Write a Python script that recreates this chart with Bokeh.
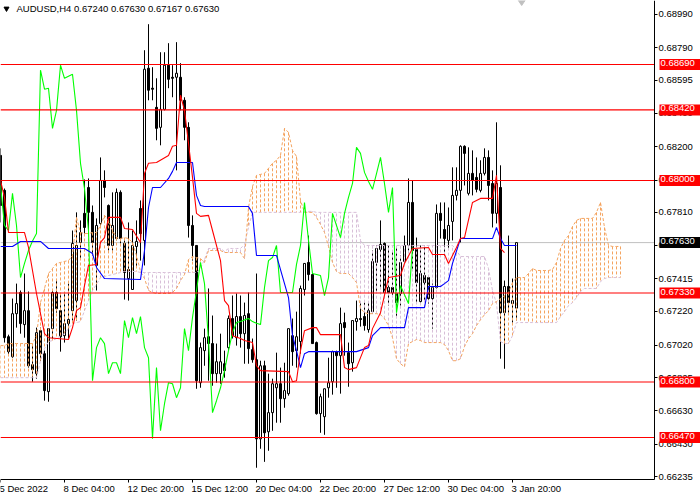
from bokeh.plotting import figure
from bokeh.models import Range1d, FixedTicker, Label, LinearAxis
from bokeh.embed import file_html
from bokeh.resources import INLINE
import numpy as np

FONT = "Liberation Sans"
SCALE = 1e5

x_ticks = [0, 16, 32, 48, 64, 80, 96, 112, 128]
x_labels = ["5 Dec 2022", "8 Dec 04:00", "12 Dec 20:00", "15 Dec 12:00", "20 Dec 04:00",
            "22 Dec 20:00", "27 Dec 12:00", "30 Dec 04:00", "3 Jan 20:00"]
y_ticks = [0.68990, 0.68790, 0.68595, 0.68400, 0.68200, 0.68000, 0.67810, 0.67615,
           0.67415, 0.67220, 0.67020, 0.66825, 0.66630, 0.66430, 0.66235]
levels = [0.68690, 0.68420, 0.68000, 0.67330, 0.66800, 0.66470]
last_price = 0.67630

opens = [68149,67941,67070,66951,67207,67333,67142,67225,66903,66850,
 67106,66969,66743,67118,67333,67225,67076,67148,67225,67285,
 67631,67804,67958,67810,67494,67744,68000,67851,67613,67654,
 67929,67625,67416,67351,67607,67833,67643,68668,68549,68435,
 68316,68423,68686,68614,68614,68614,68477,68316,67732,67613,
 66796,66987,67070,67029,66850,66850,66909,67005,67178,67064,
 67190,67088,67207,66993,66933,66462,66897,66504,66618,66766,
 66790,66701,66731,67076,66987,67041,67351,67512,67440,67035,
 66612,66594,66766,66802,66981,66957,67154,66975,66915,67160,
 67178,67190,67112,67219,67512,67589,67625,67363,67363,67327,
 67327,67518,67613,67869,67589,67279,67434,67422,67297,67363,
 67804,67708,67643,67756,67911,67941,68203,67923,68042,68018,
 67941,68042,68137,67982,67804,67958,67213,67369,67267,67240]
highs = [68191,67952,67082,67297,67386,67345,67446,67339,67017,67124,
 67124,66987,67118,67351,67404,67327,67327,67386,67702,67810,
 67762,68006,68012,67851,67774,68137,68060,67857,67929,67952,
 67941,67643,67750,67702,67762,67881,68775,68930,68674,68608,
 68763,68763,68817,68686,68823,68698,68495,68346,67792,67613,
 67035,67118,67357,67196,67029,67088,66987,67196,67315,67327,
 67315,67273,67333,67059,67446,66927,66927,66850,66820,66975,
 66886,66915,67118,67178,67219,67374,67506,67672,67446,67041,
 66731,66760,66945,66987,66987,67243,67213,67035,67166,67285,
 67273,67273,67273,67583,67613,67762,67631,67613,67583,67607,
 67553,67672,68012,68000,67660,67613,67613,67434,67386,67857,
 67869,67869,67839,68078,68078,68209,68209,68197,68179,68137,
 68120,68191,68179,68060,68346,68090,67404,67672,67416,67630]
lows = [67750,67035,66963,66945,67124,67088,67064,66886,66802,66820,
 66927,66689,66683,67059,67213,66981,67035,67059,67166,67166,
 67535,67684,67672,67553,67345,67732,67899,67583,67583,67643,
 67625,67291,67285,67351,67482,67523,67494,68477,68477,68239,
 68209,68417,68549,68495,68060,68417,68239,67660,67523,66760,
 66766,66897,66808,66778,66796,66790,66826,66987,67059,67017,
 67005,66909,66909,66915,66290,66403,66325,66391,66510,66558,
 66558,66647,66719,66897,66886,66969,67315,67404,67029,66606,
 66498,66486,66707,66725,66766,66731,66957,66772,66862,67106,
 67130,67106,67094,67207,67339,67363,67327,67255,67315,67184,
 67255,67512,67583,67464,67273,67273,67285,67267,67118,67357,
 67654,67553,67595,67643,67881,67631,67970,67911,67911,67929,
 67929,68030,67881,67720,67744,66939,66879,67213,67154,67167]
closes = [67851,67064,66981,67207,67267,67148,67225,66897,66874,67094,
 66969,66749,67118,67333,67237,67070,67148,67172,67625,67613,
 67690,67720,67810,67631,67732,68000,67958,67613,67732,67929,
 67654,67452,67470,67613,67637,67684,68662,68537,68543,68310,
 68423,68686,68602,68608,68638,68477,68316,67732,67613,66808,
 67005,67064,67029,66850,66921,66921,66868,67178,67076,67190,
 67088,67196,66999,66933,66462,66897,66498,66618,66790,66790,
 66701,66749,67118,66981,67070,67357,67506,67440,67029,66612,
 66713,66760,66796,66981,66957,67148,67124,66909,67166,67178,
 67172,67136,67225,67518,67595,67619,67333,67333,67333,67273,
 67512,67613,67869,67583,67392,67446,67392,67297,67363,67804,
 67762,67654,67732,67911,67941,68203,68161,68042,68000,67947,
 68042,68137,67970,67804,67982,67213,67369,67273,67285,67630]

kijun_bars = [0,3,5,10,12,21,23,24,26,35,36,37,38,40,42,43,44,48,49,50,51,62,63,64,69,71,72,73,74,75,76,77,
              89,92,93,95,101,102,106,107,110,111,112,113,115,123,124,125,126,129]
kijun_vals = [67607,67607,67637,67637,67595,67595,67565,67482,67416,67410,67583,67839,67958,67958,68012,68054,
              68107,68107,67911,67851,67845,67845,67804,67553,67553,67386,67303,67076,66987,66886,66969,66981,
              66981,67005,67076,67124,67124,67243,67243,67369,67369,67386,67404,67506,67654,67654,67720,67654,67613,67613]

tenkan_bars = [0,1,2,6,7,9,11,12,17,18,19,20,21,22,24,25,26,27,30,31,33,35,36,37,39,42,43,44,45,46,47,48,49,50,52,
               53,55,56,57,58,60,61,63,64,65,72,73,74,75,76,78,79,80,85,86,87,89,91,92,93,95,97,100,101,103,107,
               108,111,112,114,115,116,118,120,123,124,125,126]
tenkan_vals = [68000,67899,67690,67690,67601,67327,67088,67064,67053,67124,67225,67243,67374,67494,67500,67631,
               67660,67780,67780,67714,67708,67631,68042,68102,68107,68149,68203,68209,68507,68417,68221,68018,
               67804,67786,67792,67702,67523,67285,67255,67076,67059,67047,67035,66897,66868,66862,66802,66808,
               66987,67106,67124,67124,67082,67082,66886,66874,66886,67005,67017,67118,67213,67422,67434,67506,
               67595,67601,67559,67559,67506,67601,67654,67660,67869,67893,67893,68030,67595,67571]

chikou_bars = list(range(0, 104))
chikou_vals = [67970,67732,67702,67923,67732,67422,67506,67583,67640,67684,68656,68543,68549,68310,68417,68686,
               68608,68620,68632,68417,68102,67952,67702,66808,67005,67064,67029,66850,66915,66915,66850,67166,
               67064,67184,67088,67190,67005,66945,66462,66886,66510,66671,66796,66790,66707,66766,67118,66987,
               67184,67345,67512,67386,67047,66618,66689,66766,66868,66987,67094,67154,67160,67170,67178,67160,
               67150,67142,67363,67523,67541,67613,67333,67333,67333,67333,67500,67613,67869,67643,67446,67440,
               67434,67315,67422,67804,67732,67660,67804,67899,67982,68197,68161,68048,67994,67947,68040,68137,
               67982,67810,67958,67213,67374,67320,67267,67601]

senkou_a = [67017,67017,67029,67029,67029,67029,67029,67029,67029,67076,
 67273,67357,67446,67476,67506,67512,67518,67523,67553,67780,
 67690,67684,67684,67690,67690,67732,67792,67762,67702,67660,
 67654,67660,67654,67631,67553,67458,67416,67345,67333,67327,
 67327,67327,67327,67333,67357,67404,67440,67529,67547,67541,
 67535,67512,67583,67583,67583,67583,67571,67571,67571,67571,
 67571,67535,67839,67964,68030,68036,68042,68072,68102,68120,
 68149,68310,68286,68179,68143,67881,67810,67810,67810,67780,
 67738,67690,67607,67512,67458,67446,67446,67446,67422,67392,
 67237,67213,67207,67207,67207,67201,67177,67136,67064,66939,
 66909,66891,67029,67041,67053,67047,67035,67035,67035,67035,
 67035,67023,66987,66927,66927,66939,67011,67059,67088,67136,
 67171,67201,67225,67267,67279,67297,67315,67333,67392,67422,
 67422,67422,67446,67476,67464,67464,67464,67464,67470,67512,
 67595,67643,67672,67726,67762,67774,67774,67774,67774,67810,
 67869,67720,67613,67607,67607,67607]
senkou_b = [66826,66826,66826,66826,66826,66826,66826,66826,66826,66826,
 66927,66999,67041,67047,67059,67076,67088,67118,67148,67154,
 67160,67225,67285,67345,67381,67422,67428,67434,67440,67446,
 67452,67458,67458,67458,67458,67452,67452,67452,67452,67452,
 67452,67452,67452,67452,67452,67452,67452,67452,67452,67452,
 67476,67530,67595,67595,67595,67595,67577,67595,67595,67595,
 67595,67619,67720,67810,67810,67810,67810,67810,67810,67810,
 67810,67810,67810,67810,67810,67810,67816,67816,67816,67810,
 67810,67810,67810,67810,67810,67810,67810,67810,67810,67810,
 67643,67613,67613,67613,67613,67613,67613,67613,67613,67613,
 67613,67613,67613,67613,67613,67613,67613,67613,67613,67613,
 67613,67613,67613,67613,67583,67547,67547,67547,67547,67547,
 67547,67547,67476,67345,67267,67041,67029,67029,67076,67154,
 67154,67154,67154,67154,67154,67154,67154,67154,67154,67154,
 67190,67219,67255,67273,67303,67339,67357,67357,67357,67357,
 67398,67416,67422,67422,67422,67422]

def px(a):
    return np.array(a, dtype=float) / SCALE

o, h, l, c = px(opens), px(highs), px(lows), px(closes)
bars = np.arange(len(o))
bear = c < o
a, b = px(senkou_a), px(senkou_b)
cb = np.arange(len(a))

AXIS_BAR = 163.5
AXIS_PRICE = 0.66220
TOP_PRICE = 0.69071
TEXT_PRICE = 0.66166
HEAD_PRICE = 0.69023

p = figure(frame_width=700, frame_height=500, output_backend="svg", toolbar_location=None,
           x_range=Range1d(0, 175), y_range=Range1d(0.66095, TOP_PRICE),
           min_border_left=0, min_border_top=0, min_border_right=0, min_border_bottom=0,
           x_axis_location=None, y_axis_location=None, background_fill_color="white")
p.outline_line_color = None
p.grid.visible = False

def style_axis(ax):
    ax.axis_line_color = "black"
    ax.major_tick_line_color = "black"
    ax.major_tick_in = 0
    ax.major_tick_out = 3
    ax.minor_tick_line_color = None
    ax.major_label_text_font = FONT
    ax.major_label_text_font_size = "9.5px"
    ax.major_label_text_color = "black"
    ax.major_label_standoff = 1

ax_b = LinearAxis(ticker=FixedTicker(ticks=x_ticks), fixed_location=AXIS_PRICE, bounds=(0, AXIS_BAR),
                  major_label_overrides={t: "" for t in x_ticks})
style_axis(ax_b)
p.add_layout(ax_b, "below")
ax_r = LinearAxis(ticker=FixedTicker(ticks=y_ticks), fixed_location=AXIS_BAR, bounds=(AXIS_PRICE, TOP_PRICE),
                  major_label_overrides={t: f"{t:.5f}" for t in y_ticks})
style_axis(ax_r)
p.add_layout(ax_r, "right")

p.segment([0], [last_price], [AXIS_BAR], [last_price], line_color="#C0C0C0", line_width=1)

p.segment(bars, l, bars, h, line_color="black", line_width=1)
p.vbar(bars[bear], 0.5, c[bear], o[bear], fill_color="black", line_color="black", line_width=1)
p.vbar(bars[~bear], 0.5, o[~bear], c[~bear], fill_color="white", line_color="black", line_width=1)

hatch_col = ["#F4A460" if ai >= bi else "#D8BFD8" for ai, bi in zip(a, b)]
p.segment(cb, a, cb, b, line_color=hatch_col, line_width=1, line_dash="3 2")
p.line(cb, b, line_color="#D8BFD8", line_width=1, line_dash="3 2")
p.line(cb, a, line_color="#F4A460", line_width=1, line_dash="3 2")

p.line(chikou_bars, px(chikou_vals), line_color="#00FF00", line_width=1.1)
p.line(kijun_bars, px(kijun_vals), line_color="#0000FF", line_width=1.1)
p.line(tenkan_bars, px(tenkan_vals), line_color="#FF0000", line_width=1.1)

p.segment([0] * len(levels), levels, [AXIS_BAR] * len(levels), levels, line_color="#FF0000", line_width=1.1)

def box_label(val, bg):
    p.add_layout(Label(x=660, x_units="screen", y=val, y_units="data", text=f"{val:.5f}",
                       text_color="white", text_font=FONT, text_font_size="9.5px",
                       text_baseline="middle", background_fill_color=bg,
                       padding=(1, 10, 1, 4), x_offset=-1))

for lv in levels:
    box_label(lv, "#FF0000")
box_label(last_price, "#000000")

for t, s in zip(x_ticks, x_labels):
    p.add_layout(Label(x=t, y=TEXT_PRICE, text=s, x_offset=-1, text_color="black",
                       text_font=FONT, text_font_size="9.5px", text_baseline="middle", text_align="left"))

p.scatter([130.3], [TOP_PRICE], marker="diamond", size=10, fill_color="#C0C0C0", line_color="#C0C0C0")
p.scatter([1.5], [HEAD_PRICE], marker="inverted_triangle", size=5, fill_color="black", line_color="black")
p.add_layout(Label(x=16, x_units="screen", y=HEAD_PRICE, y_units="data",
                   text="AUDUSD,H4  0.67240 0.67630 0.67167 0.67630",
                   text_color="black", text_font=FONT, text_font_size="9.5px", text_baseline="middle"))

open("out.html", "w").write(file_html(p, INLINE))
